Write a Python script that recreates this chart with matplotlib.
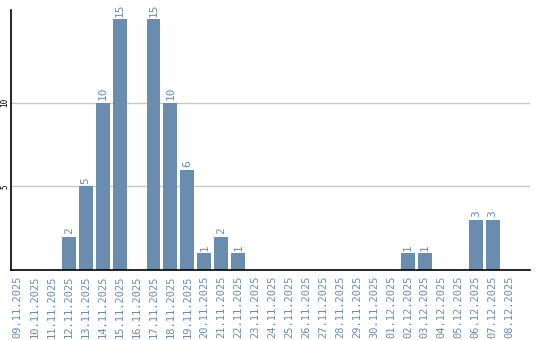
import matplotlib
matplotlib.use("Agg")
import matplotlib.pyplot as plt

dates = ["09.11.2025", "10.11.2025", "11.11.2025", "12.11.2025", "13.11.2025",
         "14.11.2025", "15.11.2025", "16.11.2025", "17.11.2025", "18.11.2025",
         "19.11.2025", "20.11.2025", "21.11.2025", "22.11.2025", "23.11.2025",
         "24.11.2025", "25.11.2025", "26.11.2025", "27.11.2025", "28.11.2025",
         "29.11.2025", "30.11.2025", "01.12.2025", "02.12.2025", "03.12.2025",
         "04.12.2025", "05.12.2025", "06.12.2025", "07.12.2025", "08.12.2025"]
counts = [0, 0, 0, 2, 5, 10, 15, 0, 15, 10, 6, 1, 2, 1, 0,
          0, 0, 0, 0, 0, 0, 0, 0, 1, 1, 0, 0, 3, 3, 0]
yticks = [5, 10]

bar_color = "#6a8caf"
text_color = "#6a8caf"

fig = plt.figure(figsize=(5.4, 3.4), dpi=100)
ax = fig.add_axes([11 / 540, 70 / 340, 519 / 540, 260 / 340])

x = list(range(len(dates)))
bars = ax.bar(x, counts, width=0.82, color=bar_color, zorder=2)

for xi, v in zip(x, counts):
    if v > 0:
        ax.text(xi, v + 0.15, str(v), rotation=90, ha="center", va="bottom",
                fontsize=8, color=text_color, family="DejaVu Sans Mono")

ax.set_xlim(-0.4, 30.2)
ax.set_ylim(0, 15.55)
ax.set_yticks(yticks)
ax.set_yticklabels([str(t) for t in yticks], rotation=90, va="center",
                   fontsize=5.5, family="DejaVu Sans Mono")
ax.yaxis.grid(True, color="#c8c8c8", linewidth=1, zorder=0)
ax.tick_params(axis="y", length=0, pad=1)

ax.set_xticks(x)
ax.set_xticklabels(dates, rotation=90, fontsize=7.5, color=text_color,
                   family="DejaVu Sans Mono")
ax.tick_params(axis="x", length=0, pad=4)

for side in ["top", "right"]:
    ax.spines[side].set_visible(False)
ax.spines["left"].set_linewidth(1.2)
ax.spines["bottom"].set_linewidth(1.2)

fig.savefig("out.png", dpi=100)
